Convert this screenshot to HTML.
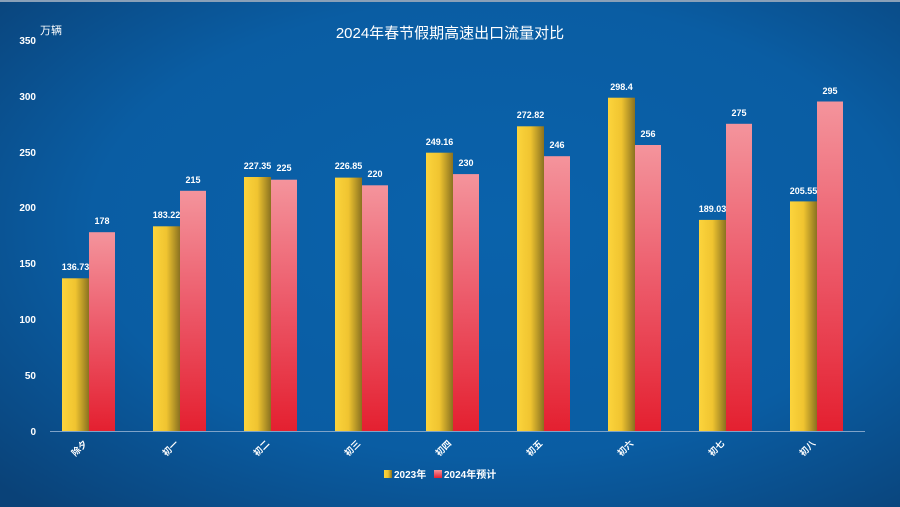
<!DOCTYPE html>
<html><head><meta charset="utf-8"><style>
html,body{margin:0;padding:0;width:900px;height:507px;overflow:hidden}
svg{display:block;font-family:"Liberation Sans","Noto Sans CJK SC",sans-serif}
</style></head><body>
<svg width="900" height="507" viewBox="0 0 900 507">
<defs>
<radialGradient id="bg" cx="0.55" cy="0.45" r="0.75">
<stop offset="0" stop-color="#0a62ab"/><stop offset="0.6" stop-color="#0a5da3"/><stop offset="1" stop-color="#0a4278"/>
</radialGradient>
<linearGradient id="gy" x1="0" y1="0" x2="1" y2="0">
<stop offset="0" stop-color="#fcd43c"/><stop offset="0.5" stop-color="#f0c430"/><stop offset="1" stop-color="#8a7220"/>
</linearGradient>
<linearGradient id="gr" x1="0" y1="0" x2="0" y2="1">
<stop offset="0" stop-color="#f4949c"/><stop offset="0.5" stop-color="#ec5868"/><stop offset="1" stop-color="#e42030"/>
</linearGradient>
</defs>
<rect width="900" height="507" fill="url(#bg)"/>
<rect width="900" height="2" fill="#8aa0b8"/>
<text x="450" y="38" fill="#fff" font-size="15" text-anchor="middle">2024年春节假期高速出口流量对比</text>
<text x="40" y="34" fill="#fff" font-size="11">万辆</text>
<g fill="#fff" font-size="10" font-weight="bold" text-anchor="end">
<text x="36" y="44">350</text><text x="36" y="100">300</text><text x="36" y="156">250</text><text x="36" y="211">200</text><text x="36" y="267">150</text><text x="36" y="323">100</text><text x="36" y="379">50</text><text x="36" y="435">0</text>
</g>
<g id="bars"></g>
<line x1="50" y1="431.5" x2="865" y2="431.5" stroke="#7fa3c8" stroke-width="1"/>
<g fill="#fff" font-size="9" font-weight="bold" text-anchor="middle">
<rect x="62" y="278.3" width="27" height="152.7" fill="url(#gy)"/><rect x="89" y="232.2" width="26" height="198.8" fill="url(#gr)"/>
<text x="75.5" y="270">136.73</text><text x="102" y="224">178</text>
<rect x="153" y="226.3" width="27" height="204.7" fill="url(#gy)"/><rect x="180" y="190.8" width="26" height="240.2" fill="url(#gr)"/>
<text x="166.5" y="218">183.22</text><text x="193" y="183">215</text>
<rect x="244" y="177" width="27" height="254" fill="url(#gy)"/><rect x="271" y="179.7" width="26" height="251.3" fill="url(#gr)"/>
<text x="257.5" y="169">227.35</text><text x="284" y="171">225</text>
<rect x="335" y="177.6" width="27" height="253.4" fill="url(#gy)"/><rect x="362" y="185.3" width="26" height="245.7" fill="url(#gr)"/>
<text x="348.5" y="169">226.85</text><text x="375" y="177">220</text>
<rect x="426" y="152.7" width="27" height="278.3" fill="url(#gy)"/><rect x="453" y="174.1" width="26" height="256.9" fill="url(#gr)"/>
<text x="439.5" y="145">249.16</text><text x="466" y="166">230</text>
<rect x="517" y="126.3" width="27" height="304.7" fill="url(#gy)"/><rect x="544" y="156.2" width="26" height="274.8" fill="url(#gr)"/>
<text x="530.5" y="118">272.82</text><text x="557" y="148">246</text>
<rect x="608" y="97.7" width="27" height="333.3" fill="url(#gy)"/><rect x="635" y="145" width="26" height="286" fill="url(#gr)"/>
<text x="621.5" y="90">298.4</text><text x="648" y="137">256</text>
<rect x="699" y="219.9" width="27" height="211.1" fill="url(#gy)"/><rect x="726" y="123.8" width="26" height="307.2" fill="url(#gr)"/>
<text x="712.5" y="212">189.03</text><text x="739" y="116">275</text>
<rect x="790" y="201.4" width="27" height="229.6" fill="url(#gy)"/><rect x="817" y="101.5" width="26" height="329.5" fill="url(#gr)"/>
<text x="803.5" y="194">205.55</text><text x="830" y="94">295</text>
</g>
<g fill="#fff" font-size="9" font-weight="bold" text-anchor="end">
<text transform="translate(88,444) rotate(-45)">除夕</text>
<text transform="translate(179,444) rotate(-45)">初一</text>
<text transform="translate(270,444) rotate(-45)">初二</text>
<text transform="translate(361,444) rotate(-45)">初三</text>
<text transform="translate(452,444) rotate(-45)">初四</text>
<text transform="translate(543,444) rotate(-45)">初五</text>
<text transform="translate(634,444) rotate(-45)">初六</text>
<text transform="translate(725,444) rotate(-45)">初七</text>
<text transform="translate(816,444) rotate(-45)">初八</text>
</g>
<rect x="384" y="470" width="8" height="8" fill="url(#gy)"/>
<text x="394" y="478" fill="#fff" font-size="10" font-weight="bold">2023年</text>
<rect x="434" y="470" width="8" height="8" fill="url(#gr)"/>
<text x="444" y="478" fill="#fff" font-size="10" font-weight="bold">2024年预计</text>
</svg>
</body></html>
